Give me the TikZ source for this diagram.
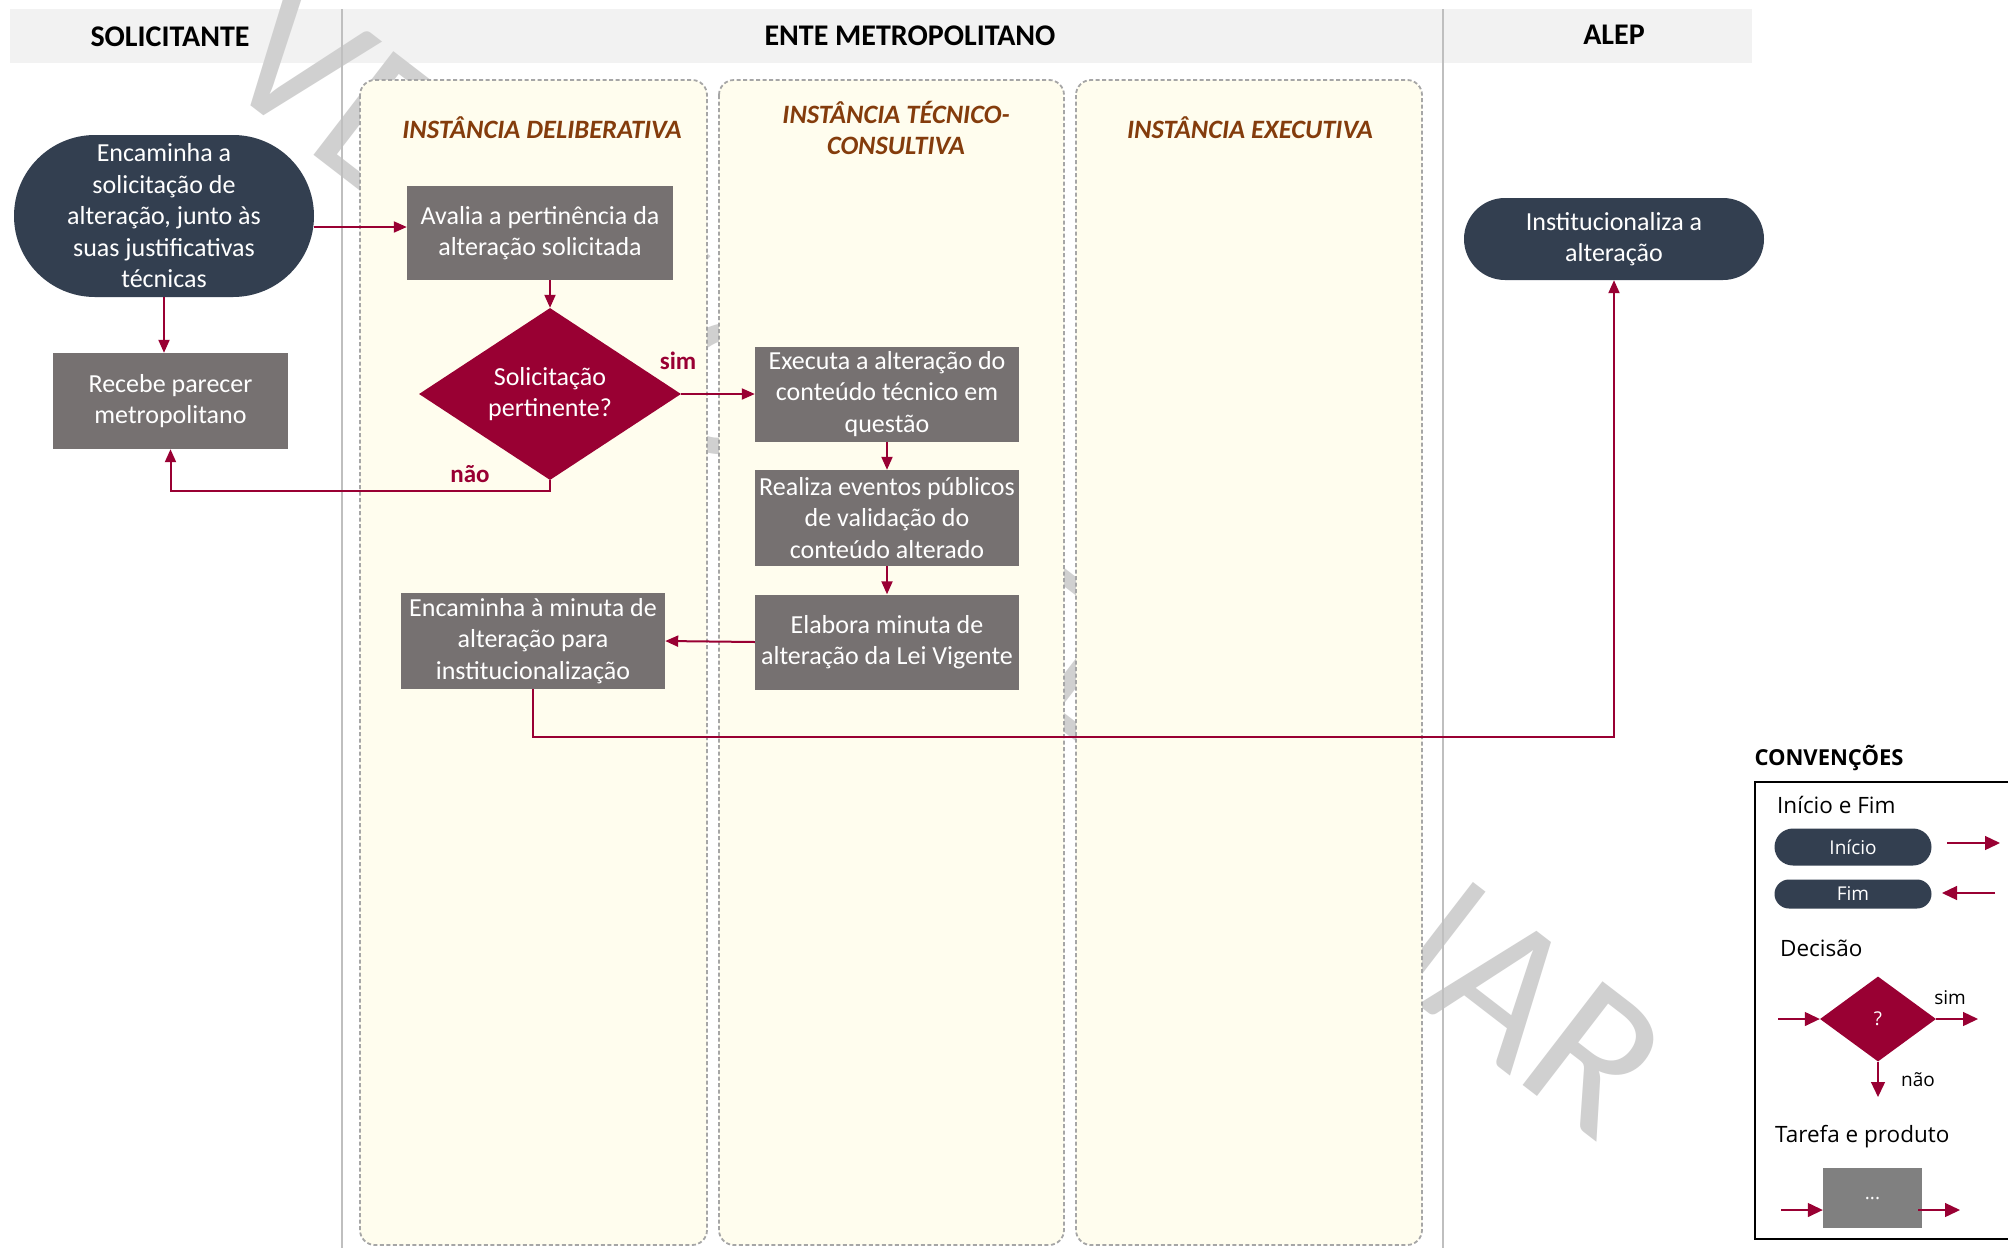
\documentclass[tikz,border=0pt]{standalone}
\usepackage{fontspec}
\setmainfont{Carlito}
\newfontfamily\legendfont{Open Sans}
\usetikzlibrary{arrows.meta,shapes.geometric}

\definecolor{hdrgray}{RGB}{242,242,242}
\definecolor{divgray}{RGB}{191,191,191}
\definecolor{lanefill}{RGB}{255,253,238}
\definecolor{laneedge}{RGB}{166,166,166}
\definecolor{lanetitle}{RGB}{132,60,12}
\definecolor{navy}{RGB}{51,63,80}
\definecolor{taskgray}{RGB}{118,113,113}
\definecolor{crimson}{RGB}{153,0,51}
\definecolor{wmgray}{RGB}{208,208,208}
\definecolor{legendgray}{RGB}{128,128,128}

\tikzset{
  txt/.style={font=\fontsize{26}{31.5}\selectfont, text=white, align=center, inner sep=0pt},
  terminal/.style={txt, fill=navy},
  task/.style={txt, fill=taskgray, minimum width=264pt, minimum height=95pt},
  decision/.style={txt, diamond, shape aspect=1.52, fill=crimson},
  flow/.style={draw=crimson, line width=2pt, -{Triangle[length=13pt,width=11pt]}},
  lbl/.style={font=\bfseries\fontsize{25}{30}\selectfont, text=crimson, inner sep=0pt},
  hdr/.style={font=\bfseries\fontsize{30}{36}\selectfont, text=black, inner sep=0pt},
  lanetxt/.style={font=\bfseries\itshape\fontsize{26.5}{30.5}\selectfont, text=lanetitle, align=center, inner sep=0pt},
  lane/.style={draw=laneedge, fill=lanefill, line width=1.8pt, dash pattern=on 4pt off 2.5pt, rounded corners=15pt},
  divider/.style={draw=divgray, line width=1.5pt},
  lgtext/.style={font=\legendfont\fontsize{22.5}{27}\selectfont, anchor=west, inner sep=0pt},
  lgsmall/.style={font=\legendfont\fontsize{19}{22}\selectfont, inner sep=0pt},
  lgpill/.style={lgsmall, fill=navy, text=white, minimum width=157pt},
  lgarrow/.style={draw=crimson, line width=1.3pt, -{Triangle[length=15pt,width=14pt]}},
}

\begin{document}
\begin{tikzpicture}[x=1pt,y=-1pt]
\useasboundingbox (0,0) rectangle (2008,1248);
\fill[white] (0,0) rectangle (2008,1248);

% header band
\fill[hdrgray] (10,9) rectangle (1752,63);

% watermark
\node[font=\fontsize{204}{206}\selectfont, text=wmgray, rotate=-37.6, anchor=base, inner sep=0pt] (wm) at (905,610) {VERSÃO PRELIMINAR};

% pool dividers
\draw[divider] (342,9) -- (342,1248);
\draw[divider] (1443,9) -- (1443,1248);

% header labels
\node[hdr] (hsol) at (170,37) {SOLICITANTE};
\node[hdr] (hente) at (910,36) {ENTE METROPOLITANO};
\node[hdr] (halep) at (1614,35) {ALEP};

% lanes of the metropolitan body
\draw[lane] (360,80) rectangle (707,1245);
\draw[lane] (719,80) rectangle (1064,1245);
\draw[lane] (1076,80) rectangle (1422,1245);
\node[lanetxt] (ldel) at (542,128) {INSTÂNCIA DELIBERATIVA};
\node[lanetxt] (ltec) at (896,128) {INSTÂNCIA TÉCNICO-\\CONSULTIVA};
\node[lanetxt] (lexe) at (1250,128) {INSTÂNCIA EXECUTIVA};

% process nodes
\node[terminal, minimum width=300pt, minimum height=162pt, rounded corners=81pt] (start) at (164,216)
  {Encaminha a\\solicitação de\\alteração, junto às\\suas justificativas\\técnicas};
\node[task, minimum width=266pt, minimum height=94pt] (avalia) at (540,233)
  {Avalia a pertinência da\\alteração solicitada};
\node[decision, minimum width=262pt, minimum height=172pt] (dec) at (550,394)
  {Solicitação\\pertinente?};
\node[task, minimum width=235pt, minimum height=96pt] (recebe) at (170.5,401)
  {Recebe parecer\\metropolitano};
\node[task] (executa) at (887,394)
  {Executa a alteração do\\conteúdo técnico em\\questão};
\node[task, minimum height=96pt] (realiza) at (887,518)
  {Realiza eventos públicos\\de validação do\\conteúdo alterado};
\node[task] (elabora) at (887,642)
  {Elabora minuta de\\alteração da Lei Vigente};
\node[task, minimum height=96pt] (encam) at (533,641)
  {Encaminha à minuta de\\alteração para\\institucionalização};
\node[terminal, minimum width=300pt, minimum height=82pt, rounded corners=41pt] (inst) at (1614,239)
  {Institucionaliza a\\alteração};

% connectors
\draw[flow] ([yshift=-11pt]start.east) -- ([yshift=-11pt]start.east -| avalia.west);
\draw[flow] (start.south) -- (start.south |- recebe.north);
\draw[flow] (avalia.south -| dec.north) -- (dec.north);
\draw[flow] (dec.east) -- (executa.west);
\draw[flow] (dec.south) -- ++(0,11) -| (recebe.south);
\draw[flow] (executa.south) -- (realiza.north);
\draw[flow] (realiza.south) -- (elabora.north);
\draw[flow] (elabora.west) -- (encam.east);
\draw[flow] (encam.south) -- ++(0,48) -| (inst.south);

\node[lbl] (sim) at (678,361) {sim};
\node[lbl] (nao) at (470,474) {não};

% legend
\node[font=\legendfont\bfseries\fontsize{22}{26}\selectfont, inner sep=0pt] (conv) at (1829,758) {CONVENÇÕES};
\draw[black, line width=2.5pt] (1755,782) rectangle (2030,1239);

\node[lgtext] (lgif) at (1777,805) {Início e Fim};
\node[lgpill, minimum height=37pt, rounded corners=18.5pt] (lgini) at (1853,847) {Início};
\node[lgpill, minimum height=29pt, rounded corners=14.5pt] (lgfim) at (1853,894) {Fim};
\coordinate (ia1) at (1947,843);
\coordinate (ia2) at (2000,843);
\draw[lgarrow] (ia1) -- (ia2);
\coordinate (fa1) at (1995,893);
\coordinate (fa2) at (1942,893);
\draw[lgarrow] (fa1) -- (fa2);

\node[lgtext] (lgdec) at (1780,948) {Decisão};
\node[lgsmall, diamond, fill=crimson, text=white, minimum width=116pt, minimum height=85pt] (lgd) at (1878,1019) {?};
\coordinate (da0) at (1778,1019);
\coordinate (da1) at (1978,1019);
\coordinate (da2) at (1878,1097);
\draw[lgarrow] (da0) -- (lgd.west);
\draw[lgarrow] (lgd.east) -- (da1);
\draw[lgarrow] (lgd.south) -- (da2);
\node[lgsmall] (lgsim) at (1950,998) {sim};
\node[lgsmall] (lgnao) at (1918,1080) {não};

\node[lgtext] (lgtar) at (1775,1137) {Tarefa e produto};
\node[lgsmall, fill=legendgray, text=white, minimum width=99pt, minimum height=60pt] (lgtask) at (1872.5,1198) {...};
\coordinate (ta0) at (1781,1210);
\coordinate (ta1) at (1960,1210);
\draw[lgarrow] (ta0) -- ([yshift=-12pt]lgtask.west);
\draw[lgarrow] ([yshift=-12pt,xshift=-4pt]lgtask.east) -- (ta1);
\end{tikzpicture}
\end{document}
